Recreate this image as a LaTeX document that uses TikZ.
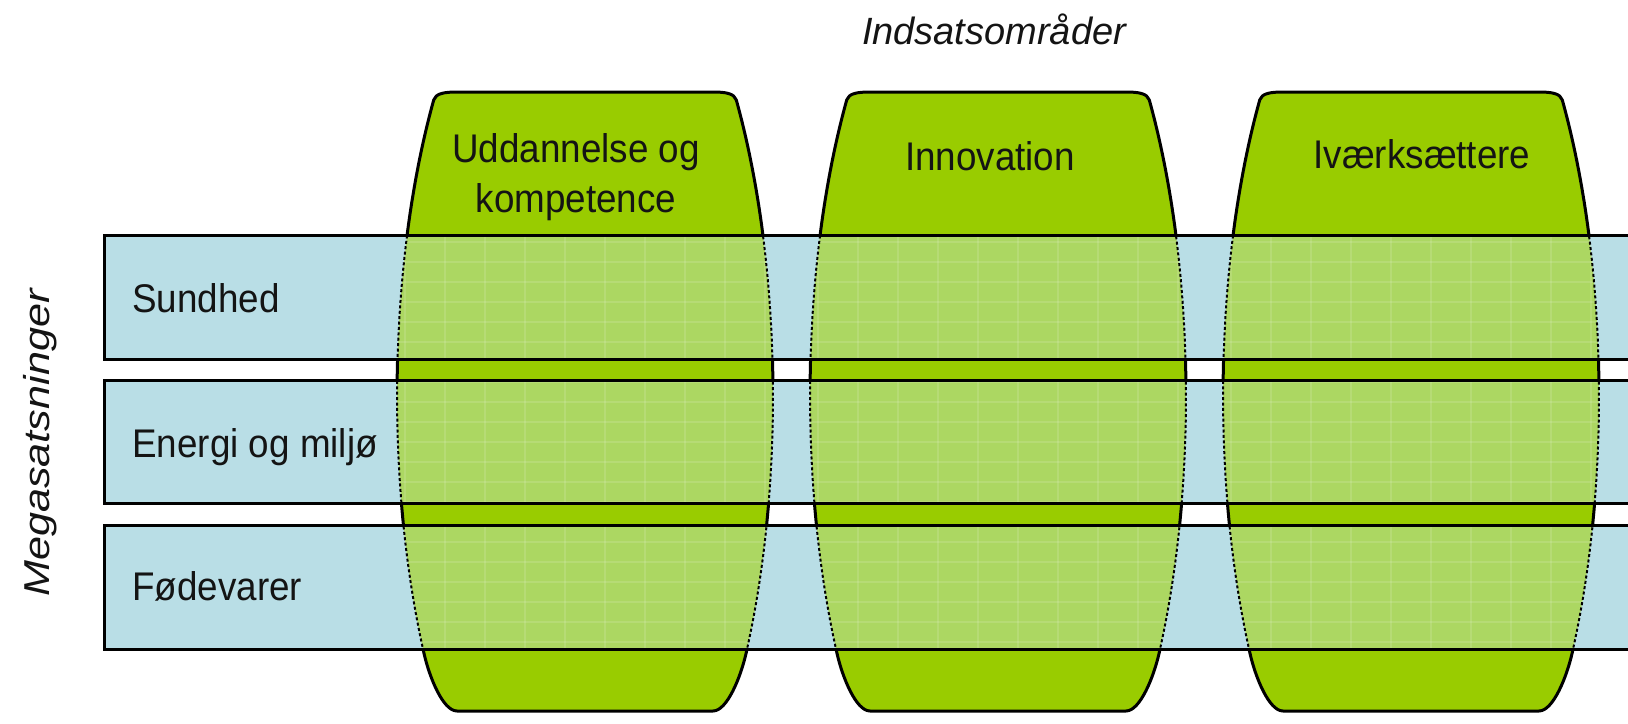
\documentclass[tikz,border=0pt]{standalone}
\usepackage{fontspec}
\setmainfont{Liberation Sans}
\newfontfamily\lblfont{Liberation Sans}[FakeStretch=0.92]
\newfontfamily\vfont{Liberation Sans}[FakeStretch=1.2]
\definecolor{bgreen}{RGB}{153,204,0}
\definecolor{bblue}{RGB}{185,222,230}
\definecolor{ovgreen}{RGB}{172,215,98}
\definecolor{txt}{RGB}{20,20,20}
\newcommand\barrelshape[1]{%
 (#1-128,92) -- (#1+128,92) .. controls (#1+140,92) and (#1+149.4,93.3) .. (#1+151.3,100)
 arc[start angle=36.4, end angle=-31, x radius=94pt, y radius=249.5pt]
 .. controls (#1+155.6,677.4) and (#1+142,711) .. (#1+128,711)
 -- (#1-128,711) .. controls (#1-142,711) and (#1-155.6,677.4) .. (#1-161.1,653)
 arc[start angle=211, end angle=143.6, x radius=94pt, y radius=249.5pt]
 .. controls (#1-149.4,93.3) and (#1-140,92) .. (#1-128,92) -- cycle}
\tikzset{
 barrelbody/.style={fill=bgreen, draw=black, line width=1.5pt, line join=round},
 bandfill/.style={fill=bblue},
 bandedge/.style={draw=black, line width=1.5pt},
 overlayfill/.style={fill=ovgreen},
 gridln/.style={draw=white, opacity=0.12, line width=0.6pt},
 dotedge/.style={draw=black, line width=1pt, dash pattern=on 1.5pt off 1.2pt},
 lbl/.style={font=\lblfont\fontsize{20pt}{25pt}\selectfont, text=txt, inner sep=0pt},
 hd/.style={font=\fontsize{19pt}{24pt}\selectfont\itshape, text=txt, inner sep=0pt},
 vhd/.style={font=\vfont\fontsize{18pt}{22pt}\selectfont\itshape, text=txt, inner sep=0pt}
}
\begin{document}
\begin{tikzpicture}[x=0.5pt,y=-0.5pt]
\fill[white] (0,0) rectangle (1628,723);
\useasboundingbox (0,0) rectangle (1628,723);
% barrels
\foreach \c in {585,998,1411}{
  \path[barrelbody] \barrelshape{\c};
}
% bands
\foreach \t/\b in {235/359,380/503,525/649}{
  \fill[bandfill] (104,\t) rectangle (1640,\b);
  \foreach \c in {585,998,1411}{
    \begin{scope}
      \clip (104,\t) rectangle (1640,\b);
      \begin{scope}
        \clip \barrelshape{\c};
        \fill[overlayfill] (\c-200,\t) rectangle (\c+200,\b);
        \foreach \gy in {242,262,...,642}{ \draw[gridln] (\c-200,\gy) -- (\c+200,\gy); }
        \foreach \gx in {-180,-140,...,180}{ \draw[gridln] (\c+\gx,\t) -- (\c+\gx,\b); }
      \end{scope}
      \draw[dotedge] \barrelshape{\c};
    \end{scope}
  }
  \draw[bandedge] (1640,\t) -- (104,\t) -- (104,\b) -- (1640,\b);
}
% labels
\node[lbl, anchor=base west] (s1) at (132,312) {Sundhed};
\node[lbl, anchor=base west] (s2) at (132,457) {Energi og miljø};
\node[lbl, anchor=base west] (s3) at (132,600) {Fødevarer};
\node[lbl, anchor=base, align=center] (t1) at (576,212) {Uddannelse og\\kompetence};
\node[lbl, anchor=base] (t2) at (990,170) {Innovation};
\node[lbl, anchor=base] (t3) at (1422,168) {Iværksættere};
\node[hd, anchor=base] (hx) at (994,44) {Indsatsområder};
\node[vhd, rotate=90, anchor=base] (hy) at (49,443) {Megasatsninger};
\end{tikzpicture}
\end{document}
